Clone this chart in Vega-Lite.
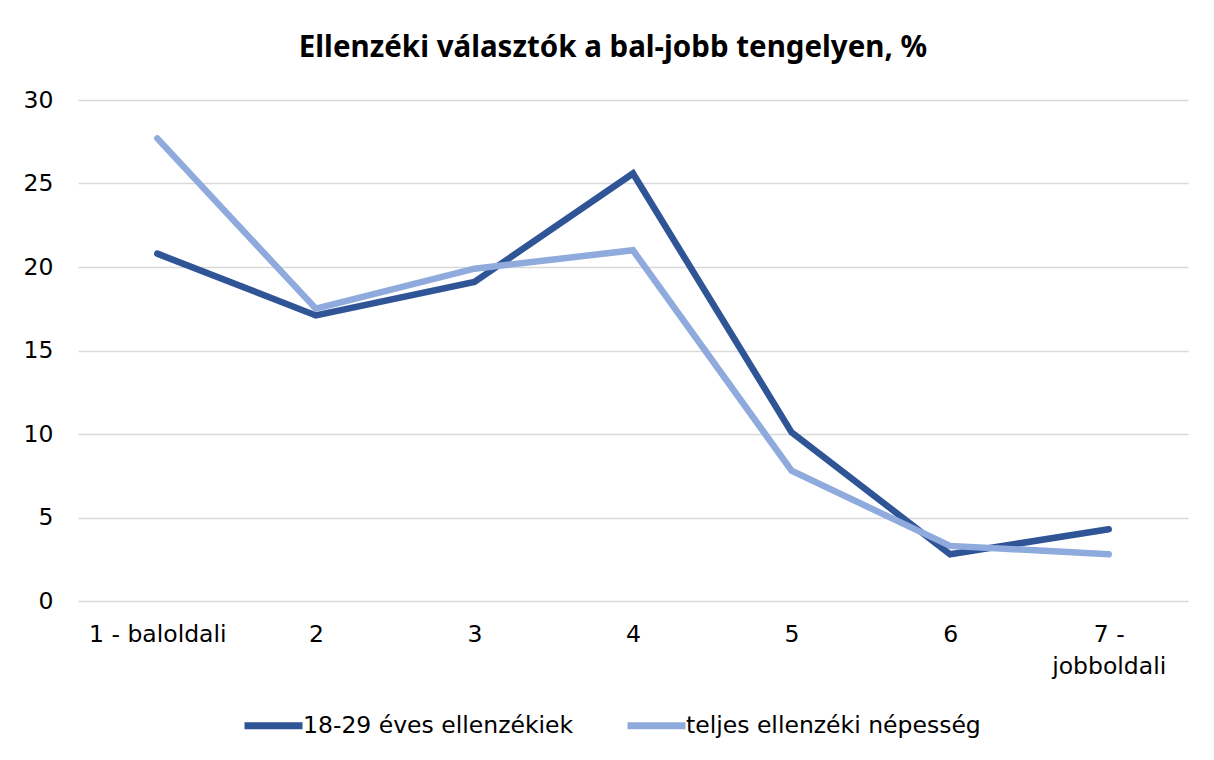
{
  "$schema": "https://vega.github.io/schema/vega-lite/v6.json",
  "autosize": "none",
  "width": 1110,
  "height": 501,
  "padding": {"left": 78, "top": 100, "right": 26, "bottom": 159},
  "background": "white",
  "title": {
    "text": "Ellenzéki választók a bal-jobb tengelyen, %",
    "font": "Noto Sans",
    "fontSize": 29.5,
    "fontWeight": "bold",
    "color": "#000000",
    "anchor": "middle",
    "offset": 25,
    "dx": -20
  },
  "data": {
    "values": [
      {"kat": "1 - baloldali", "sor": "18-29 éves ellenzékiek", "ertek": 20.8},
      {"kat": "2", "sor": "18-29 éves ellenzékiek", "ertek": 17.1},
      {"kat": "3", "sor": "18-29 éves ellenzékiek", "ertek": 19.1},
      {"kat": "4", "sor": "18-29 éves ellenzékiek", "ertek": 25.6},
      {"kat": "5", "sor": "18-29 éves ellenzékiek", "ertek": 10.1},
      {"kat": "6", "sor": "18-29 éves ellenzékiek", "ertek": 2.8},
      {"kat": "7 - jobboldali", "sor": "18-29 éves ellenzékiek", "ertek": 4.3},
      {"kat": "1 - baloldali", "sor": "teljes ellenzéki népesség", "ertek": 27.7},
      {"kat": "2", "sor": "teljes ellenzéki népesség", "ertek": 17.5},
      {"kat": "3", "sor": "teljes ellenzéki népesség", "ertek": 19.9},
      {"kat": "4", "sor": "teljes ellenzéki népesség", "ertek": 21.0},
      {"kat": "5", "sor": "teljes ellenzéki népesség", "ertek": 7.8},
      {"kat": "6", "sor": "teljes ellenzéki népesség", "ertek": 3.3},
      {"kat": "7 - jobboldali", "sor": "teljes ellenzéki népesség", "ertek": 2.8}
    ]
  },
  "mark": {"type": "line", "strokeWidth": 6.5, "strokeCap": "round", "strokeJoin": "miter"},
  "encoding": {
    "x": {
      "field": "kat",
      "type": "ordinal",
      "sort": null,
      "scale": {"type": "point", "padding": 0.5},
      "axis": {
        "title": null,
        "labelAngle": 0,
        "domain": false,
        "ticks": false,
        "grid": false,
        "labelPadding": 21,
        "labelFont": "DejaVu Sans",
        "labelFontSize": 23.5,
        "labelColor": "#000000",
        "labelLineHeight": 32,
        "labelExpr": "datum.label == '7 - jobboldali' ? ['7 -', 'jobboldali'] : datum.label"
      }
    },
    "y": {
      "field": "ertek",
      "type": "quantitative",
      "scale": {"domain": [0, 30], "nice": false},
      "axis": {
        "title": null,
        "values": [0, 5, 10, 15, 20, 25, 30],
        "domain": false,
        "ticks": false,
        "labelPadding": 25,
        "labelFont": "DejaVu Sans",
        "labelFontSize": 23.5,
        "labelColor": "#000000",
        "gridColor": "#d9d9d9",
        "gridWidth": 1.5
      }
    },
    "color": {
      "field": "sor",
      "type": "nominal",
      "scale": {"domain": ["18-29 éves ellenzékiek", "teljes ellenzéki népesség"], "range": ["#2F5597", "#8FAADC"]},
      "legend": {
        "title": null,
        "orient": "none",
        "legendX": 163,
        "legendY": 593,
        "padding": 0,
        "direction": "horizontal",
        "symbolType": "stroke",
        "symbolStrokeWidth": 7,
        "symbolSize": 3364,
        "labelFont": "DejaVu Sans",
        "labelFontSize": 23.5,
        "labelColor": "#000000",
        "labelOffset": -3,
        "columnPadding": 39,
        "labelLimit": 400
      }
    }
  },
  "config": {"view": {"stroke": null}}
}
